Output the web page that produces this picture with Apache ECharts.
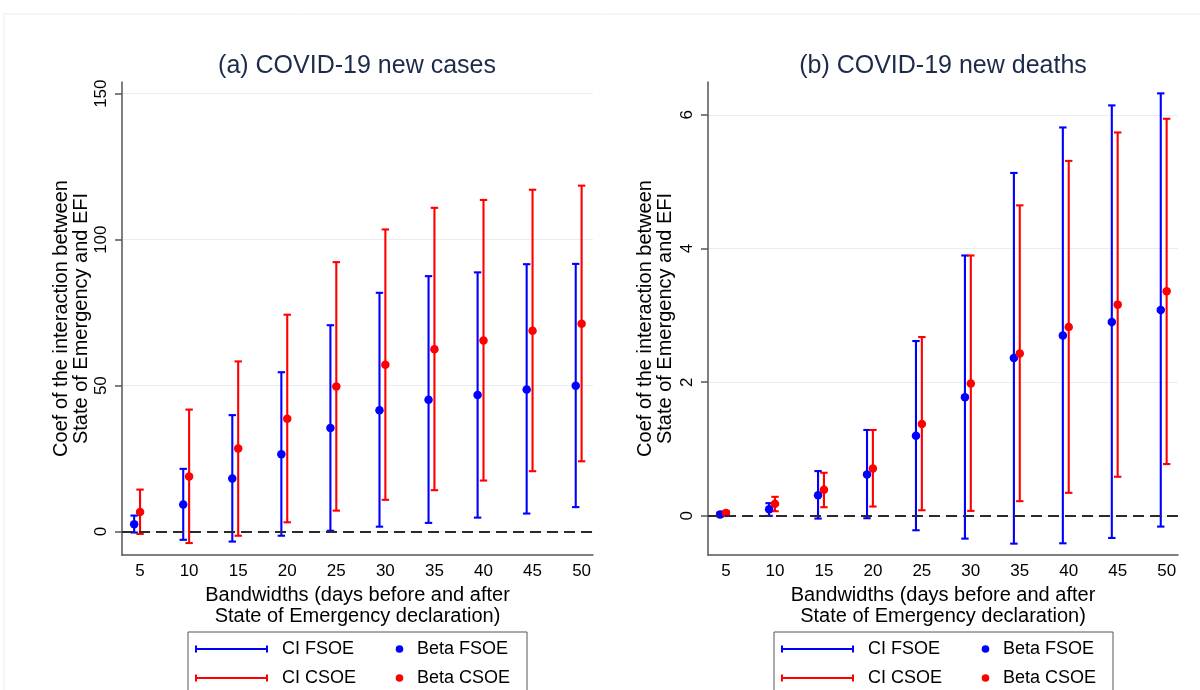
<!DOCTYPE html>
<html>
<head>
<meta charset="utf-8">
<script src="https://cdn.jsdelivr.net/npm/echarts@6/dist/echarts.min.js"></script>
<style>html,body{margin:0;padding:0;background:#fff}#c{width:1200px;height:690px}</style>
</head>
<body>
<div id="c"></div>
<script>
// ---- data ----
const bandwidths = [5, 10, 15, 20, 25, 30, 35, 40, 45, 50];
const xTicks = [5, 10, 15, 20, 25, 30, 35, 40, 45, 50];
const casesYTicks = [0, 50, 100, 150];
const deathsYTicks = [0, 2, 4, 6];

// (a) new cases
const casesBetaF = [2.5, 9.3, 18.2, 26.5, 35.5, 41.6, 45.2, 46.8, 48.7, 50.0];
const casesLoF   = [-0.3, -2.8, -3.4, -1.4, 0.3, 1.7, 3.0, 4.8, 6.2, 8.4];
const casesHiF   = [5.5, 21.5, 39.9, 54.6, 70.7, 81.8, 87.5, 88.8, 91.6, 91.7];
const casesBetaC = [6.7, 18.9, 28.5, 38.7, 49.7, 57.2, 62.5, 65.5, 68.8, 71.2];
const casesLoC   = [-0.8, -3.9, -1.4, 3.2, 7.2, 10.9, 14.2, 17.5, 20.7, 24.1];
const casesHiC   = [14.4, 41.8, 58.3, 74.3, 92.3, 103.5, 110.9, 113.6, 117.1, 118.5];

// (b) new deaths
const deathsBetaF = [0.02, 0.10, 0.31, 0.62, 1.20, 1.775, 2.36, 2.70, 2.90, 3.08];
const deathsLoF   = [-0.01, 0.0, -0.04, -0.035, -0.215, -0.34, -0.415, -0.41, -0.33, -0.16];
const deathsHiF   = [0.05, 0.19, 0.67, 1.285, 2.615, 3.895, 5.13, 5.81, 6.14, 6.32];
const deathsBetaC = [0.045, 0.18, 0.39, 0.71, 1.375, 1.98, 2.43, 2.825, 3.16, 3.36];
const deathsLoC   = [0.015, 0.07, 0.13, 0.14, 0.085, 0.075, 0.22, 0.345, 0.585, 0.775];
const deathsHiC   = [0.075, 0.285, 0.645, 1.285, 2.675, 3.895, 4.645, 5.31, 5.735, 5.94];

// ---- styling ----
const FONT = '"Liberation Sans", Arial, sans-serif';
const BLUE = '#0000ff', RED = '#ff0000';
const FSOE_SHIFT = -0.6;

function errorSeries(idx, xs, lo, hi, color, shift, withZero) {
  const s = {
    type: 'custom',
    xAxisIndex: idx, yAxisIndex: idx,
    data: xs.map((b, i) => [b + shift, lo[i], hi[i]]),
    encode: { x: 0, y: [1, 2] },
    silent: true,
    z: 3,
    renderItem: function (params, api) {
      const x = api.value(0);
      const a = api.coord([x, api.value(1)]);
      const b = api.coord([x, api.value(2)]);
      const hw = 3.7;
      const st = { stroke: color, lineWidth: 2.1 };
      return {
        type: 'group',
        children: [
          { type: 'line', shape: { x1: a[0], y1: a[1], x2: b[0], y2: b[1] }, style: st },
          { type: 'line', shape: { x1: a[0] - hw, y1: a[1], x2: a[0] + hw, y2: a[1] }, style: st },
          { type: 'line', shape: { x1: b[0] - hw, y1: b[1], x2: b[0] + hw, y2: b[1] }, style: st }
        ]
      };
    }
  };
  if (withZero) {
    s.markLine = {
      silent: true, symbol: 'none', label: { show: false },
      lineStyle: { color: '#2b2b2b', type: [11, 6], width: 2 },
      data: [{ yAxis: 0 }],
      animation: false
    };
  }
  return s;
}

function dotSeries(idx, xs, beta, color, shift) {
  return {
    type: 'scatter', xAxisIndex: idx, yAxisIndex: idx,
    data: xs.map((b, i) => [b + shift, beta[i]]),
    symbol: 'circle', symbolSize: 8.5,
    itemStyle: { color: color, opacity: 1 },
    silent: true, z: 4
  };
}

function xAxisOpt(idx) {
  return {
    type: 'value', gridIndex: idx, min: 3.16, max: 51.16,
    axisLine: { show: true, onZero: false, lineStyle: { color: '#555', width: 1.5 } },
    axisTick: { show: false, customValues: xTicks },
    splitLine: { show: false },
    axisLabel: { customValues: xTicks, color: '#000', fontSize: 17, fontFamily: FONT, margin: 8 },
    name: 'Bandwidths (days before and after\nState of Emergency declaration)',
    nameLocation: 'middle', nameGap: 21,
    nameTextStyle: { color: '#000', fontSize: 20, fontFamily: FONT, lineHeight: 21 }
  };
}

function yAxisOpt(idx, min, max, ticks, gap) {
  return {
    type: 'value', gridIndex: idx, min: min, max: max,
    axisLine: { show: true, lineStyle: { color: '#555', width: 1.5 } },
    axisTick: { show: true, length: 7, customValues: ticks, lineStyle: { color: '#555', width: 1.5 } },
    splitLine: { show: true, lineStyle: { color: '#e6eef0', width: 1.2 } },
    axisLabel: { customValues: ticks, rotate: 90, color: '#000', fontSize: 17, fontFamily: FONT, margin: 12 },
    name: 'Coef of the interaction between\nState of Emergency and EFI',
    nameLocation: 'middle', nameRotate: 90, nameGap: gap,
    nameTextStyle: { color: '#000', fontSize: 20, fontFamily: FONT, lineHeight: 20 }
  };
}

function legendGraphics(ox) {
  const els = [];
  els.push({ type: 'rect', shape: { x: ox + 188, y: 632, width: 339, height: 80 },
             style: { fill: '#fff', stroke: '#555', lineWidth: 1 }, z: 10 });
  const rows = [{ y: 649, c: BLUE, ci: 'CI FSOE', b: 'Beta FSOE' },
                { y: 678, c: RED, ci: 'CI CSOE', b: 'Beta CSOE' }];
  rows.forEach(r => {
    const st = { stroke: r.c, lineWidth: 2 };
    els.push({ type: 'line', shape: { x1: ox + 196, y1: r.y, x2: ox + 267, y2: r.y }, style: st, z: 11 });
    els.push({ type: 'line', shape: { x1: ox + 196, y1: r.y - 3.5, x2: ox + 196, y2: r.y + 3.5 }, style: st, z: 11 });
    els.push({ type: 'line', shape: { x1: ox + 267, y1: r.y - 3.5, x2: ox + 267, y2: r.y + 3.5 }, style: st, z: 11 });
    els.push({ type: 'text', x: ox + 282, y: r.y, style: { text: r.ci, fill: '#000', font: '18px ' + FONT, textVerticalAlign: 'middle', textAlign: 'left' }, z: 11 });
    els.push({ type: 'circle', shape: { cx: ox + 399.5, cy: r.y, r: 3.8 }, style: { fill: r.c }, z: 11 });
    els.push({ type: 'text', x: ox + 417, y: r.y, style: { text: r.b, fill: '#000', font: '18px ' + FONT, textVerticalAlign: 'middle', textAlign: 'left' }, z: 11 });
  });
  return els;
}

const chart = echarts.init(document.getElementById('c'), null, { renderer: 'canvas' });
const option = {
  animation: false,
  backgroundColor: '#fff',
  grid: [
    { left: 122, right: 607, top: 82, bottom: 135 },
    { left: 708, right: 22, top: 82, bottom: 135 }
  ],
  xAxis: [xAxisOpt(0), xAxisOpt(1)],
  yAxis: [
    yAxisOpt(0, -8, 154, casesYTicks, 31),
    yAxisOpt(1, -0.585, 6.49, deathsYTicks, 33)
  ],
  graphic: [
    { type: 'rect', shape: { x: 4, y: 14, width: 1210, height: 700 }, style: { fill: 'none', stroke: '#eeeeee', lineWidth: 1 }, z: -1, silent: true },
    { type: 'text', x: 357, y: 66, style: { text: '(a) COVID-19 new cases', fill: '#1c2b4a', font: '25px ' + FONT, textAlign: 'center', textVerticalAlign: 'middle' } },
    { type: 'text', x: 943, y: 66, style: { text: '(b) COVID-19 new deaths', fill: '#1c2b4a', font: '25px ' + FONT, textAlign: 'center', textVerticalAlign: 'middle' } }
  ].concat(legendGraphics(0)).concat(legendGraphics(586)),
  series: [
    errorSeries(0, bandwidths, casesLoF, casesHiF, BLUE, FSOE_SHIFT, true),
    errorSeries(0, bandwidths, casesLoC, casesHiC, RED, 0, false),
    dotSeries(0, bandwidths, casesBetaF, BLUE, FSOE_SHIFT),
    dotSeries(0, bandwidths, casesBetaC, RED, 0),
    errorSeries(1, bandwidths, deathsLoF, deathsHiF, BLUE, FSOE_SHIFT, true),
    errorSeries(1, bandwidths, deathsLoC, deathsHiC, RED, 0, false),
    dotSeries(1, bandwidths, deathsBetaF, BLUE, FSOE_SHIFT),
    dotSeries(1, bandwidths, deathsBetaC, RED, 0)
  ]
};
chart.setOption(option);
</script>
</body>
</html>
